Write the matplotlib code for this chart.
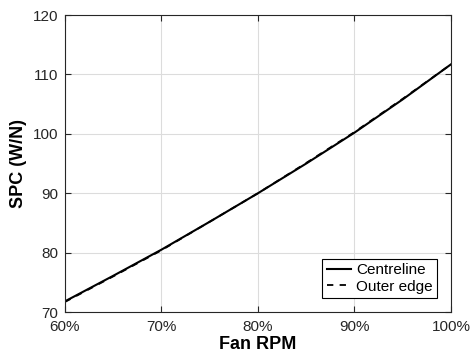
import matplotlib
matplotlib.use("Agg")
import matplotlib.pyplot as plt
from matplotlib.ticker import FuncFormatter

plt.rcParams['font.family'] = ['Liberation Sans', 'DejaVu Sans']

# fan speed (fraction of max RPM)
rpm = [0.60, 0.65, 0.70, 0.75, 0.80, 0.85, 0.90, 0.95, 1.00]
spc_centre = [71.8, 76.1, 80.5, 85.2, 90.0, 95.0, 100.2, 105.8, 111.7]
spc_outer = [71.7, 76.0, 80.4, 85.2, 90.0, 95.1, 100.3, 105.9, 111.7]

fig = plt.figure(figsize=(4.71, 3.61), dpi=100)
ax = fig.add_axes([0.138, 0.1357, 0.8195, 0.8227])

ax.plot(rpm, spc_centre, color='black', lw=1.5, label='Centreline')
ax.plot(rpm, spc_outer, color='black', lw=1.3, ls=(0, (3.5, 3.5)), label='Outer edge')

ax.set_xlim(0.6, 1.0)
ax.set_ylim(70, 120)
ax.set_xticks([0.6, 0.7, 0.8, 0.9, 1.0])
ax.set_yticks([70, 80, 90, 100, 110, 120])
ax.xaxis.set_major_formatter(FuncFormatter(lambda v, p: f"{v*100:.0f}%"))
ax.grid(True, color='#dcdcdc', lw=0.8)
ax.set_axisbelow(True)
ax.tick_params(direction='in', top=True, right=True, labelsize=11,
               colors='#262626', length=4)
ax.tick_params(axis='x', pad=6)
ax.tick_params(axis='y', pad=5)
for s in ax.spines.values():
    s.set_color('#262626')
    s.set_linewidth(0.8)

ax.set_xlabel('Fan RPM', fontsize=13, fontweight='bold', labelpad=1)
ax.set_ylabel('SPC (W/N)', fontsize=13, fontweight='bold', labelpad=4)

leg = ax.legend(loc='lower right', fontsize=11, fancybox=False, framealpha=1,
                edgecolor='black', handlelength=1.6, handletextpad=0.3,
                borderpad=0.3, labelspacing=0.15, borderaxespad=0.9)
leg.get_frame().set_linewidth(0.8)

fig.savefig('out.png', dpi=100)
